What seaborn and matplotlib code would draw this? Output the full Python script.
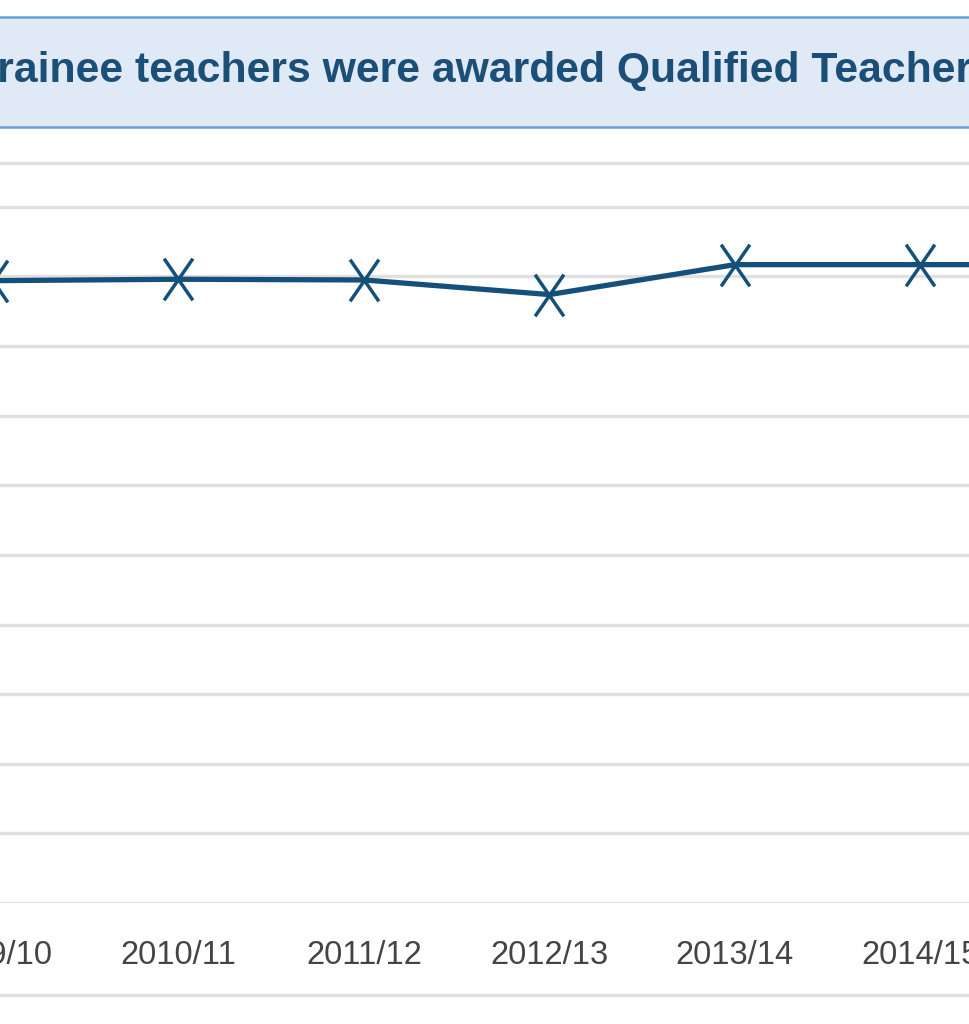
import numpy as np
import pandas as pd
import seaborn as sns
import matplotlib.pyplot as plt
from matplotlib.path import Path
from matplotlib.patches import Rectangle
from matplotlib.lines import Line2D

# data (percent awarded QTS)
years = ["2009/10", "2010/11", "2011/12", "2012/13", "2013/14", "2014/15", "2015/16"]
qts_pct = [89.4, 89.6, 89.5, 87.4, 91.7, 91.7, 91.7]
y_ticks = [0, 10, 20, 30, 40, 50, 60, 70, 80, 90, 100]
title = "trainee teachers were awarded Qualified Teacher Status"

df = pd.DataFrame({"year": years, "pct": qts_pct})

sns.set_style("white")
plt.rcParams['font.family'] = ['Liberation Sans', 'DejaVu Sans']

W, H = 970, 1024
fig = plt.figure(figsize=(W / 100, H / 100), dpi=100)

def fy(px):
    return (H - px) / H

# axes a bit wider than the canvas so the cut 2009/10 label is still drawn
left_px, right_px = -100, 1070
ax = fig.add_axes([left_px / W, fy(903), (right_px - left_px) / W, fy(163) - fy(903)])

# tall narrow X marker like the original
x_mark = Path([(-0.69, -1), (0.69, 1), (-0.69, 1), (0.69, -1)],
              [Path.MOVETO, Path.LINETO, Path.MOVETO, Path.LINETO])

line_col = "#15507b"
sns.lineplot(data=df, x="year", y="pct", ax=ax, color=line_col, linewidth=3.8,
             marker=x_mark, markersize=30, markeredgewidth=2.5,
             markeredgecolor=line_col, sort=False)

step = 185.5
ax.set_xlim((left_px + 7) / step, (right_px + 7) / step)
ax.set_ylim(0, 106.3)
ax.set_yticks(y_ticks)
ax.set_yticklabels([])
ax.yaxis.grid(True, color="#e0e0e0", linewidth=2.4)
ax.set_axisbelow(True)
ax.set_xlabel("")
ax.set_ylabel("")
ax.tick_params(axis="x", length=0, pad=27, labelsize=23.5, labelcolor="#444444")
ax.tick_params(axis="y", length=0)
for s in ["left", "right", "bottom"]:
    ax.spines[s].set_visible(False)
ax.spines["top"].set_color("#e0e0e0")
ax.spines["top"].set_linewidth(2.4)

# line under the tick labels
fig.add_artist(Line2D([0, 1], [fy(995), fy(995)], transform=fig.transFigure,
                      color="#e0e0e0", linewidth=2.4))

# title box
fig.patches.append(Rectangle((-0.05, fy(127)), 1.1, fy(17) - fy(127),
                             transform=fig.transFigure, facecolor="#dfeaf6",
                             edgecolor="#6a9fd6", linewidth=1.8, zorder=0))
fig.text(-17 / W, fy(71), title, ha="left", va="center", fontsize=30.8,
         fontweight="bold", color="#1b4f78")

fig.savefig("out.png", dpi=100)
